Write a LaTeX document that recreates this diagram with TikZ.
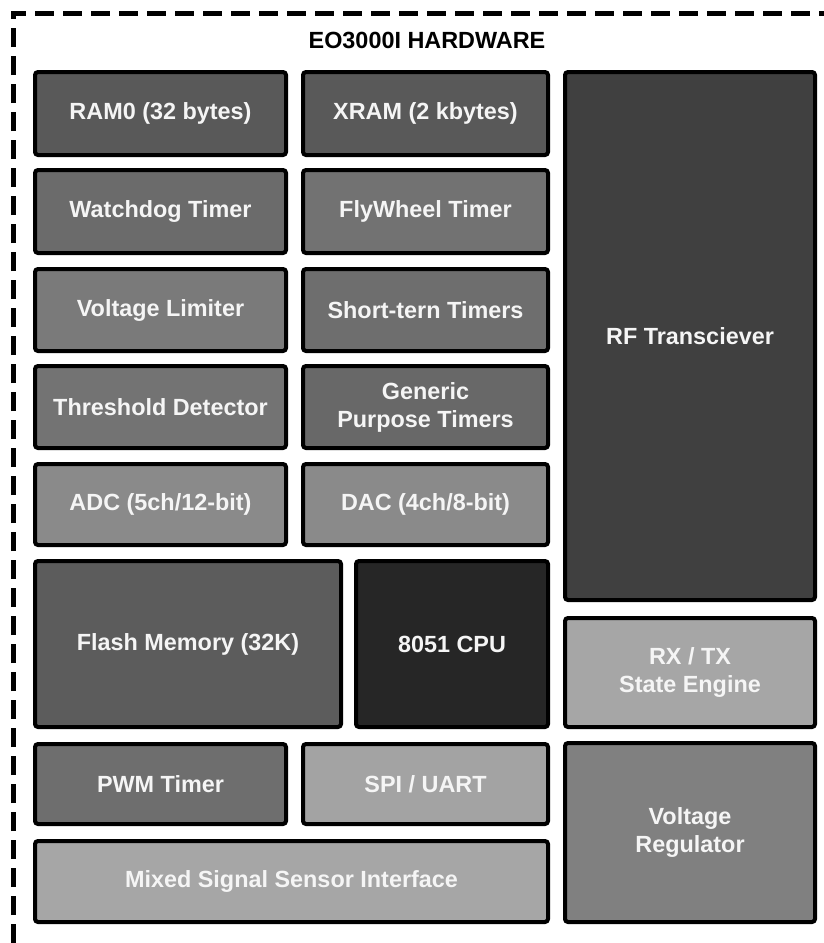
\documentclass[tikz,border=0pt]{standalone}
\usepackage{fontspec}
\setmainfont{Liberation Sans}
\definecolor{cRAM}{HTML}{595959}
\definecolor{cRF}{HTML}{404040}
\definecolor{cWD}{HTML}{6B6B6B}
\definecolor{cFW}{HTML}{727272}
\definecolor{cVL}{HTML}{7A7A7A}
\definecolor{cST}{HTML}{6E6E6E}
\definecolor{cTD}{HTML}{737373}
\definecolor{cGP}{HTML}{686868}
\definecolor{cADC}{HTML}{8A8A8A}
\definecolor{cFL}{HTML}{5C5C5C}
\definecolor{cCPU}{HTML}{262626}
\definecolor{cRX}{HTML}{A6A6A6}
\definecolor{cPWM}{HTML}{6E6E6E}
\definecolor{cSPI}{HTML}{A3A3A3}
\definecolor{cVR}{HTML}{808080}
\definecolor{txt}{HTML}{F5F5F5}
\begin{document}
\begin{tikzpicture}[x=1pt,y=-1pt,
  blk/.style={draw=black, line width=4pt, rounded corners=3pt, text=txt,
    font=\bfseries\fontsize{23.4}{28}\selectfont, align=center, inner sep=1pt},
  framepath/.style={line width=5pt, dash pattern=on 19pt off 9pt},
  titletext/.style={font=\bfseries\fontsize{23.4}{28}\selectfont, text=black}]
\useasboundingbox (0,0) rectangle (824,943);
\draw[framepath] (13,943) -- (13,13) -- (824,13);
\node[titletext] (title) at (427,40) {EO3000I HARDWARE};
% row 1
\node[blk, fill=cRAM, minimum width=251pt, minimum height=83pt] (ram0) at (160.5,113.5) {RAM0 (32 bytes)};
\node[blk, fill=cRAM, minimum width=245pt, minimum height=83pt] (xram) at (425.5,113.5) {XRAM (2 kbytes)};
% row 2
\node[blk, fill=cWD, minimum width=251pt, minimum height=83pt] (wd) at (160.5,211.5) {Watchdog Timer};
\node[blk, fill=cFW, minimum width=245pt, minimum height=83pt] (fw) at (425.5,211.5) {FlyWheel Timer};
% row 3
\node[blk, fill=cVL, minimum width=251pt, minimum height=82pt] (vl) at (160.5,310) {Voltage Limiter};
\node[blk, fill=cST, minimum width=245pt, minimum height=82pt] (st) at (425.5,310) {Short-tern Timers};
% row 4
\node[blk, fill=cTD, minimum width=251pt, minimum height=82pt] (td) at (160.5,407) {Threshold Detector};
\node[blk, fill=cGP, minimum width=245pt, minimum height=82pt] (gp) at (425.5,407) {Generic\\Purpose Timers};
% row 5
\node[blk, fill=cADC, minimum width=251pt, minimum height=81pt] (adc) at (160.5,504.5) {ADC (5ch/12-bit)};
\node[blk, fill=cADC, minimum width=245pt, minimum height=81pt] (dac) at (425.5,504.5) {DAC (4ch/8-bit)};
% flash & cpu
\node[blk, fill=cFL, minimum width=306pt, minimum height=166pt] (flash) at (188,644) {Flash Memory (32K)};
\node[blk, fill=cCPU, minimum width=192pt, minimum height=166pt] (cpu) at (452,644) {8051 CPU};
% right column
\node[blk, fill=cRF, minimum width=250pt, minimum height=528pt] (rf) at (690,336) {RF Transciever};
\node[blk, fill=cRX, minimum width=250pt, minimum height=109pt] (rx) at (690,672.5) {RX / TX\\State Engine};
\node[blk, fill=cVR, minimum width=250pt, minimum height=179pt] (vr) at (690,832.5) {Voltage\\Regulator};
% bottom rows
\node[blk, fill=cPWM, minimum width=251pt, minimum height=80pt] (pwm) at (160.5,784) {PWM Timer};
\node[blk, fill=cSPI, minimum width=245pt, minimum height=80pt] (spi) at (425.5,784) {SPI / UART};
\node[blk, fill=cRX, minimum width=513pt, minimum height=81pt] (mixed) at (291.5,881.5) {Mixed Signal Sensor Interface};
\end{tikzpicture}
\end{document}
